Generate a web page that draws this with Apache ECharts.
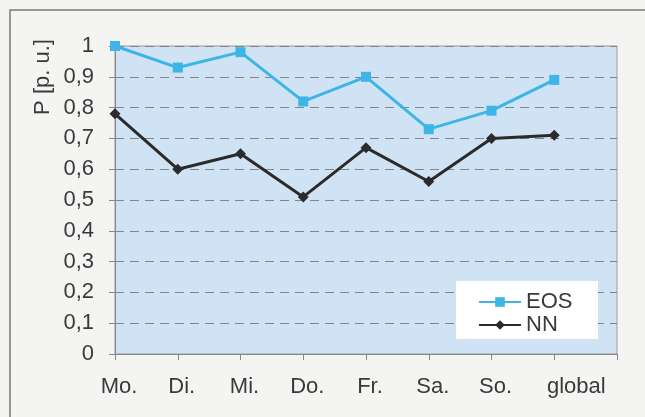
<!DOCTYPE html>
<html><head><meta charset="utf-8">
<script src="https://cdn.jsdelivr.net/npm/echarts@6/dist/echarts.min.js"></script>
<style>html,body{margin:0;padding:0;background:#f4f4f2;}#c{width:645px;height:417px;}</style>
</head><body><div id="c"></div>
<script>
const categories = ['Mo.', 'Di.', 'Mi.', 'Do.', 'Fr.', 'Sa.', 'So.', 'global', ''];
const eosValues = [1.00, 0.93, 0.98, 0.82, 0.90, 0.73, 0.79, 0.89];
const nnValues = [0.78, 0.60, 0.65, 0.51, 0.67, 0.56, 0.70, 0.71];
const yTicks = ['0', '0,1', '0,2', '0,3', '0,4', '0,5', '0,6', '0,7', '0,8', '0,9', '1'];

const chart = echarts.init(document.getElementById('c'));
const font = 'Liberation Sans, Arial, sans-serif';
chart.setOption({
  backgroundColor: '#f4f4f2',
  animation: false,
  grid: {left: 115, right: 28, top: 46, bottom: 63, show: true,
         backgroundColor: '#cfe3f5', borderColor: '#9a9a9a', borderWidth: 1},
  graphic: [
    {type: 'rect', shape: {x: 10, y: 10, width: 700, height: 500},
     style: {fill: null, stroke: '#777', lineWidth: 1.5}, z: -1},
    {type: 'text', x: 43, y: 77, rotation: Math.PI / 2,
     style: {text: 'P [p. u.]', font: '22px ' + font, fill: '#3a3a3a', align: 'center', verticalAlign: 'middle'}},
    {type: 'rect', shape: {x: 456, y: 281, width: 142, height: 58},
     style: {fill: '#ffffff'}, z: 5}
  ],
  legend: {
    orient: 'vertical', left: 473, top: 286, itemGap: 1, itemWidth: 42, itemHeight: 12,
    textStyle: {fontSize: 22, fontFamily: font, color: '#3a3a3a'}, z: 10,
    data: ['EOS', 'NN']
  },
  xAxis: {
    type: 'category', data: categories, boundaryGap: false,
    axisLine: {lineStyle: {color: '#888', width: 1}},
    axisTick: {show: true, length: 6, lineStyle: {color: '#888'}},
    axisLabel: {fontSize: 22, fontFamily: font, color: '#3a3a3a', margin: 22, interval: 0,
      formatter: v => v === 'global' ? '{g|' + v + '}' : '{n|' + v + '}',
      rich: {
        n: {fontSize: 22, fontFamily: font, color: '#3a3a3a', padding: [0, 0, 0, 8]},
        g: {fontSize: 22, fontFamily: font, color: '#3a3a3a', padding: [0, 0, 0, 44]}
      }},
    splitLine: {show: false}
  },
  yAxis: {
    type: 'value', min: 0, max: 1, interval: 0.1,
    axisLine: {show: true, lineStyle: {color: '#888'}},
    axisTick: {show: true, length: 6, inside: false, lineStyle: {color: '#888'}},
    axisLabel: {fontSize: 22, fontFamily: font, color: '#3a3a3a', margin: 21,
      formatter: v => yTicks[Math.round(v * 10)]},
    splitLine: {show: true, lineStyle: {color: '#858585', type: [9, 6], width: 1}}
  },
  series: [
    {name: 'EOS', type: 'line', data: eosValues, symbol: 'rect', symbolSize: 10,
     itemStyle: {color: '#3db5e6'}, lineStyle: {color: '#3db5e6', width: 3}},
    {name: 'NN', type: 'line', data: nnValues, symbol: 'diamond', symbolSize: 11,
     itemStyle: {color: '#2b2b2b'}, lineStyle: {color: '#2b2b2b', width: 3}}
  ]
});
</script></body></html>
